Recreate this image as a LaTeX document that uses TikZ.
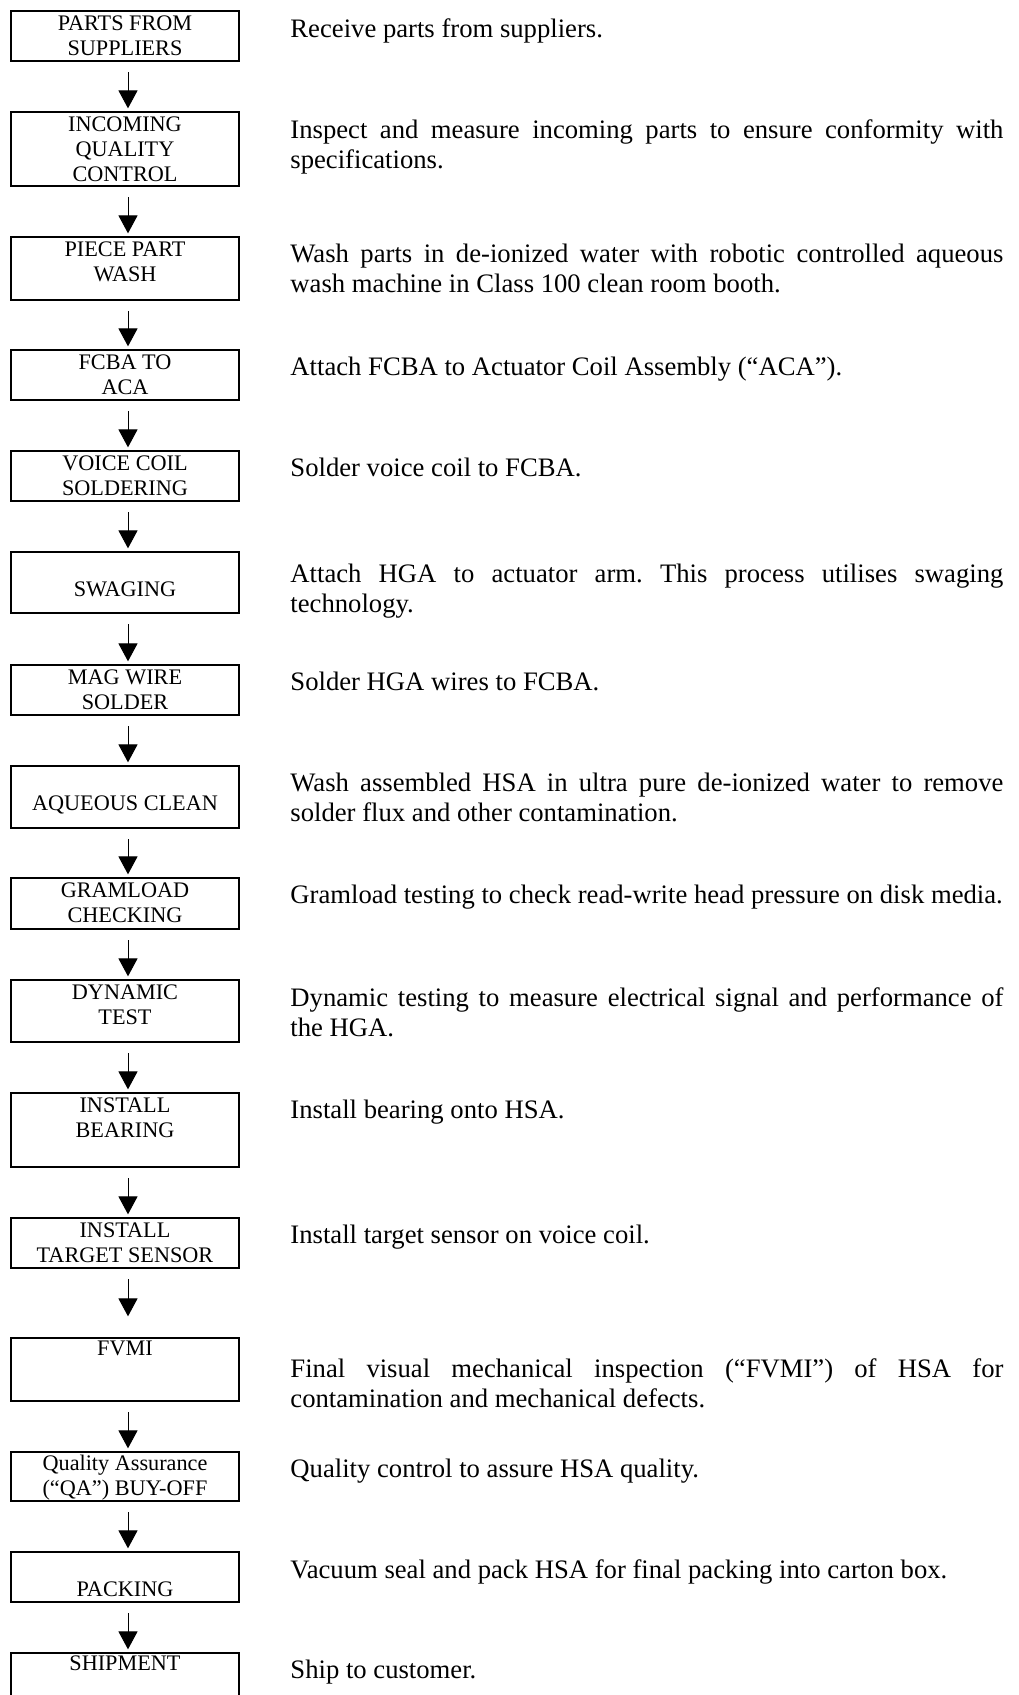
\documentclass[tikz,border=0pt]{standalone}
\usepackage{fontspec}
\setmainfont{Liberation Serif}
\usetikzlibrary{arrows.meta,positioning}
\newdimen\pxu
\pxu=0.45pt
\begin{document}
\begin{tikzpicture}[x=0.45pt,y=-0.45pt,
	>={Triangle[length=8.1pt,width=8.6pt]},
	stepbox/.style={draw,line width=0.6pt,minimum width=228\pxu,inner sep=0pt},
	steptext/.style={align=center,inner sep=0pt,font=\fontsize{10}{11.25}\selectfont},
	desc/.style={anchor=north west,inner sep=0pt,text width=713\pxu,align=justify,
		font=\fontsize{12}{13.5}\selectfont,
		execute at begin node={\frenchspacing\tolerance=9999\hyphenpenalty=10000}},
	arrowstyle/.style={->,line width=0.45pt,shorten <=10.5\pxu,shorten >=3\pxu}]
	
	\useasboundingbox (0,0) rectangle (1019,1695);
	
	\node[stepbox,minimum height=50\pxu] (s1)  at (125,36)     {};
	\node[stepbox,minimum height=74\pxu] (s2)  at (125,149)    {};
	\node[stepbox,minimum height=63\pxu] (s3)  at (125,268.5)  {};
	\node[stepbox,minimum height=50\pxu] (s4)  at (125,375)    {};
	\node[stepbox,minimum height=50\pxu] (s5)  at (125,476)    {};
	\node[stepbox,minimum height=61\pxu] (s6)  at (125,582.5)  {};
	\node[stepbox,minimum height=50\pxu] (s7)  at (125,690)    {};
	\node[stepbox,minimum height=62\pxu] (s8)  at (125,797)    {};
	\node[stepbox,minimum height=51\pxu] (s9)  at (125,903.5)  {};
	\node[stepbox,minimum height=62\pxu] (s10) at (125,1011)   {};
	\node[stepbox,minimum height=74\pxu] (s11) at (125,1130)   {};
	\node[stepbox,minimum height=50\pxu] (s12) at (125,1243)   {};
	\node[stepbox,minimum height=63\pxu] (s13) at (125,1369.5) {};
	\node[stepbox,minimum height=49\pxu] (s14) at (125,1476.5) {};
	\node[stepbox,minimum height=50\pxu] (s15) at (125,1577)   {};
	\node[stepbox,minimum height=59\pxu] (s16) at (125,1682.5) {};
	
	\node[steptext,below=5\pxu of s1.north]  (t1)  {PARTS FROM\\SUPPLIERS};
	\node[steptext,below=5\pxu of s2.north]  (t2)  {INCOMING\\QUALITY\\CONTROL};
	\node[steptext,below=5\pxu of s3.north]  (t3)  {PIECE PART\\WASH};
	\node[steptext,below=5\pxu of s4.north]  (t4)  {FCBA TO\\ACA};
	\node[steptext,below=5\pxu of s5.north]  (t5)  {VOICE COIL\\SOLDERING};
	\node[steptext,below=30\pxu of s6.north] (t6)  {SWAGING};
	\node[steptext,below=5\pxu of s7.north]  (t7)  {MAG WIRE\\SOLDER};
	\node[steptext,below=30\pxu of s8.north] (t8)  {AQUEOUS CLEAN};
	\node[steptext,below=5\pxu of s9.north]  (t9)  {GRAMLOAD\\CHECKING};
	\node[steptext,below=5\pxu of s10.north] (t10) {DYNAMIC\\TEST};
	\node[steptext,below=5\pxu of s11.north] (t11) {INSTALL\\BEARING};
	\node[steptext,below=5\pxu of s12.north] (t12) {INSTALL\\TARGET SENSOR};
	\node[steptext,below=3\pxu of s13.north] (t13) {FVMI};
	\node[steptext,below=3\pxu of s14.north] (t14) {Quality Assurance\\(“QA”) BUY-OFF};
	\node[steptext,below=30\pxu of s15.north] (t15) {PACKING};
	\node[steptext,below=3\pxu of s16.north] (t16) {SHIPMENT};
	
	\node[desc] (d1)  at (290,18)   {Receive parts from suppliers.};
	\node[desc] (d2)  at (290,119)  {Inspect and measure incoming parts to ensure conformity with\linebreak specifications.};
	\node[desc] (d3)  at (290,244)  {Wash parts in de-ionized water with robotic controlled aqueous\linebreak wash machine in Class 100 clean room booth.};
	\node[desc] (d4)  at (290,357)  {Attach FCBA to Actuator Coil Assembly (“ACA”).};
	\node[desc] (d5)  at (290,458)  {Solder voice coil to FCBA.};
	\node[desc] (d6)  at (290,564)  {Attach HGA to actuator arm. This process utilises swaging\linebreak technology.};
	\node[desc] (d7)  at (290,672)  {Solder HGA wires to FCBA.};
	\node[desc] (d8)  at (290,773)  {Wash assembled HSA in ultra pure de-ionized water to remove\linebreak solder flux and other contamination.};
	\node[desc] (d9)  at (290,885)  {Gramload testing to check read-write head pressure on disk media.};
	\node[desc] (d10) at (290,987)  {Dynamic testing to measure electrical signal and performance of\linebreak the HGA.};
	\node[desc] (d11) at (290,1100) {Install bearing onto HSA.};
	\node[desc] (d12) at (290,1225) {Install target sensor on voice coil.};
	\node[desc] (d13) at (290,1358) {Final visual mechanical inspection (“FVMI”) of HSA for\linebreak contamination and mechanical defects.};
	\node[desc] (d14) at (290,1459) {Quality control to assure HSA quality.};
	\node[desc] (d15) at (290,1559) {Vacuum seal and pack HSA for final packing into carton box.};
	\node[desc] (d16) at (290,1660) {Ship to customer.};
	
	\draw[arrowstyle] ([xshift=3\pxu]s1.south)  -- ([xshift=3\pxu]s2.north);
	\draw[arrowstyle] ([xshift=3\pxu]s2.south)  -- ([xshift=3\pxu]s3.north);
	\draw[arrowstyle] ([xshift=3\pxu]s3.south)  -- ([xshift=3\pxu]s4.north);
	\draw[arrowstyle] ([xshift=3\pxu]s4.south)  -- ([xshift=3\pxu]s5.north);
	\draw[arrowstyle] ([xshift=3\pxu]s5.south)  -- ([xshift=3\pxu]s6.north);
	\draw[arrowstyle] ([xshift=3\pxu]s6.south)  -- ([xshift=3\pxu]s7.north);
	\draw[arrowstyle] ([xshift=3\pxu]s7.south)  -- ([xshift=3\pxu]s8.north);
	\draw[arrowstyle] ([xshift=3\pxu]s8.south)  -- ([xshift=3\pxu]s9.north);
	\draw[arrowstyle] ([xshift=3\pxu]s9.south)  -- ([xshift=3\pxu]s10.north);
	\draw[arrowstyle] ([xshift=3\pxu]s10.south) -- ([xshift=3\pxu]s11.north);
	\draw[arrowstyle] ([xshift=3\pxu]s11.south) -- ([xshift=3\pxu]s12.north);
	\draw[arrowstyle,shorten >=21\pxu] ([xshift=3\pxu]s12.south) -- ([xshift=3\pxu]s13.north);
	\draw[arrowstyle] ([xshift=3\pxu]s13.south) -- ([xshift=3\pxu]s14.north);
	\draw[arrowstyle] ([xshift=3\pxu]s14.south) -- ([xshift=3\pxu]s15.north);
	\draw[arrowstyle] ([xshift=3\pxu]s15.south) -- ([xshift=3\pxu]s16.north);
\end{tikzpicture}
\end{document}
